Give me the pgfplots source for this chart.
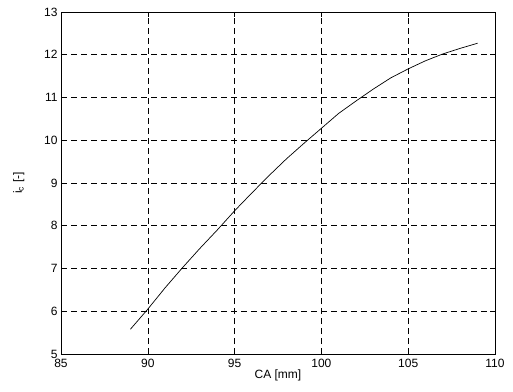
\documentclass[border=0pt]{standalone}
\usepackage{pgfplots}
\pgfplotsset{compat=1.18}
\usepackage{fontspec}
\setmainfont{Liberation Sans}
\begin{document}
\begin{tikzpicture}[x=1bp,y=1bp]
\useasboundingbox (-61bp,-38bp) rectangle (452bp,354bp);
\begin{axis}[
  at={(0,0)}, anchor=south west,
  scale only axis,
  width=434bp, height=342bp,
  xmin=85, xmax=110, ymin=5, ymax=13,
  xtick={85,90,...,110}, ytick={5,6,...,13},
  grid=major,
  major grid style={black, line width=0.6bp, dash pattern=on 6bp off 4bp},
  axis line style={black, line width=0.8bp},
  tick style={black, line width=0.6bp},
  tick align=inside,
  major tick length=5bp,
  xtick pos=both, ytick pos=both,
  font=\fontsize{12bp}{14bp}\selectfont,
  /pgf/number format/assume math mode=true,
  xlabel={CA [mm]},
  ylabel={i\textsubscript{c} [-]},
  xlabel style={yshift=5bp},
  ylabel style={yshift=13bp},
  tick label style={font=\fontsize{12bp}{14bp}\selectfont},
  xticklabel style={yshift=-2bp},
]
\addplot[black, line width=0.7bp, mark=none] coordinates {
(89,5.58) (90,6.05) (91,6.55) (92,7.02) (93,7.47) (94,7.90) (95,8.35)
(96,8.77) (97,9.18) (98,9.57) (99,9.93) (100,10.28) (101,10.63)
(102,10.92) (103,11.20) (104,11.46) (105,11.67) (106,11.86)
(107,12.02) (108,12.15) (109,12.27)
};
\end{axis}
\end{tikzpicture}
\end{document}
